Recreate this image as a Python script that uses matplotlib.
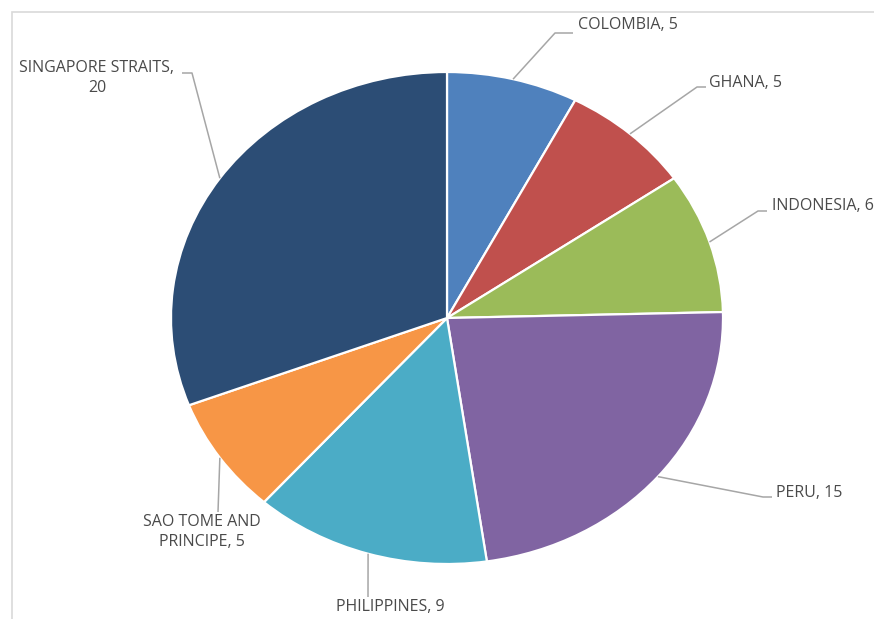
import numpy as np
import matplotlib.pyplot as plt
from matplotlib.patches import Rectangle

# datos
paises = ["COLOMBIA", "GHANA", "INDONESIA", "PERU", "PHILIPPINES",
          "SAO TOME AND\nPRINCIPE", "SINGAPORE STRAITS,\n"]
valores = [5, 5, 6, 15, 9, 5, 20]
colores = ["#4F81BD", "#C0504D", "#9BBB59", "#8064A2", "#4BACC6", "#F79646", "#2C4D75"]

# centro y radios del pie en pixeles (la elipse sale un poco ancha)
cx, cy, rx, ry = 447, 318, 276, 246
W, H = 874, 619

def px(x, y):  # pixel -> coordenadas de datos
    return (x - cx) / rx, (cy - y) / ry

# codo de la linea guia, fin de la linea, posicion del texto y alineacion
guias = [
    ((555, 33), (573, 33), (578, 25), "left"),
    ((697, 87), (706, 87), (709, 83), "left"),
    ((758, 211), (767, 211), (772, 206), "left"),
    ((763, 497), (772, 497), (776, 493), "left"),
    ((368, 597), None, (390, 607), "center"),
    ((218, 512), None, (202, 532), "center"),
    ((192, 73), (182, 73), (97, 78), "center"),
]

fig = plt.figure(figsize=(W / 100, H / 100), dpi=100)
ax = fig.add_axes([0, 0, 1, 1])

wedges, _ = ax.pie(valores, colors=colores, startangle=90, counterclock=False,
                   wedgeprops=dict(edgecolor="white", linewidth=1.6))
ax.set_aspect("auto")
ax.set_xlim(px(0, 0)[0], px(W, 0)[0])
ax.set_ylim(px(0, H)[1], px(0, 0)[1])
ax.axis("off")

for w, nombre, v, (codo, fin, txt, ha) in zip(wedges, paises, valores, guias):
    ang = np.deg2rad((w.theta1 + w.theta2) / 2)
    pts = [(np.cos(ang), np.sin(ang)), px(*codo)]
    if fin is not None:
        pts.append(px(*fin))
    xs, ys = zip(*pts)
    ax.plot(xs, ys, color="#A6A6A6", lw=1.1, solid_capstyle="butt")
    if nombre.endswith("\n"):
        etiqueta = nombre + str(v)
    else:
        etiqueta = nombre + ", " + str(v)
    tx, ty = px(*txt)
    ax.text(tx, ty, etiqueta, ha=ha, va="center", multialignment="center",
            fontsize=11.5, family="Open Sans", color="#4A4A4A", linespacing=1.3)

# marco gris del area del grafico
fig.add_artist(Rectangle((12 / W, -0.1), 1.2, 1 - 12 / H + 0.1, transform=fig.transFigure,
                         fill=False, edgecolor="#D9D9D9", lw=1.2))

fig.savefig("out.png", dpi=100)
